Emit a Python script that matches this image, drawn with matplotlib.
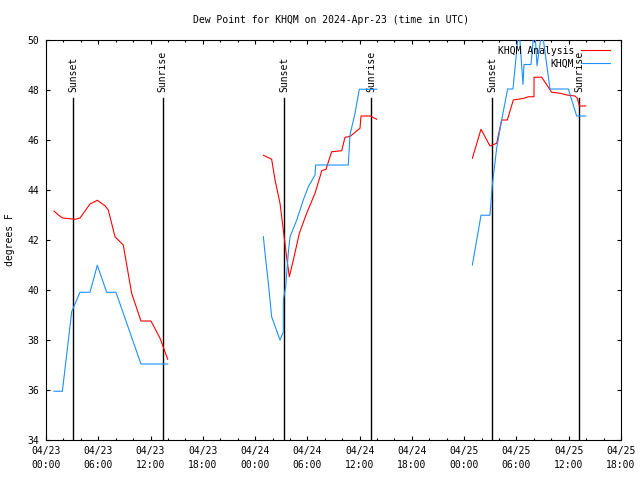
import pandas as pd
import matplotlib
matplotlib.use('Agg')
import matplotlib.pyplot as plt
import matplotlib.dates as mdates

# times are hours after 2024-04-23 00:00 UTC, dew points in deg F
# KHQM Analysis (red), three windows
ana_hours_1 = [0.92, 1.42, 1.91, 3.33, 3.90, 4.48, 5.05, 5.89, 6.77, 7.15, 7.92, 8.87,
               9.83, 10.90, 12.05, 13.09, 13.97]
ana_dewpt_1 = [43.14, 42.98, 42.86, 42.81, 42.86, 43.14, 43.42, 43.57, 43.35, 43.18, 42.11,
               41.78, 39.85, 38.74, 38.74, 38.05, 37.21]
ana_hours_2 = [24.95, 25.90, 26.29, 26.86, 27.24, 27.62, 27.93, 28.39, 29.08, 29.92, 30.88,
               31.45, 31.64, 32.14, 32.79, 33.94, 34.32, 34.89, 36.04, 36.16, 37.19, 37.96]
ana_dewpt_2 = [45.37, 45.21, 44.38, 43.45, 42.38, 41.31, 40.51, 41.18, 42.25, 43.05, 43.85,
               44.51, 44.75, 44.81, 45.51, 45.55, 46.09, 46.12, 46.45, 46.94, 46.94, 46.81]
ana_hours_3 = [48.94, 49.93, 50.96, 51.73, 52.30, 52.95, 53.64, 54.87, 55.36, 56.01, 56.02,
               56.90, 57.55, 58.04, 59.00, 59.77, 60.72, 60.99, 61.22, 61.95]
ana_dewpt_3 = [45.25, 46.41, 45.74, 45.85, 46.78, 46.78, 47.58, 47.65, 47.71, 47.71, 48.49,
               48.49, 48.15, 47.89, 47.85, 47.78, 47.74, 47.65, 47.34, 47.34]

# KHQM obs (blue)
obs_hours_1 = [0.92, 1.88, 2.95, 3.90, 5.05, 5.89, 6.96, 8.03, 10.90, 13.97]
obs_dewpt_1 = [35.93, 35.93, 39.11, 39.89, 39.89, 40.97, 39.89, 39.89, 37.02, 37.02]
obs_hours_2 = [24.95, 25.14, 25.52, 25.90, 26.86, 27.24, 27.25, 27.51, 27.81, 28.01, 28.78,
               29.53, 30.11, 30.88, 30.95, 34.70, 34.89, 35.47, 35.96, 37.96]
obs_dewpt_2 = [42.11, 41.45, 40.25, 38.91, 37.98, 38.3, 39.6, 40.11, 41.45, 42.11, 42.78,
               43.58, 44.11, 44.58, 44.98, 44.98, 46.18, 47.05, 48.01, 48.01]
obs_hours_3 = [48.94, 49.93, 50.96, 51.23, 51.73, 52.30, 52.99, 53.60, 54.29, 54.75, 54.87,
               55.67, 56.07, 56.36, 56.93, 57.85, 59.96, 60.91, 61.95]
obs_dewpt_3 = [40.98, 42.97, 42.97, 44.18, 45.65, 46.78, 48.02, 48.02, 50.5, 48.2, 49.0,
               49.0, 50.6, 48.95, 50.4, 48.02, 48.02, 46.94, 46.94]

sunset_hours = [3.13, 27.32, 51.23]
sunrise_hours = [13.40, 37.30, 61.22]

start = pd.Timestamp('2024-04-23 00:00')


def to_time(hours):
    return [start + pd.Timedelta(hours=h) for h in hours]


mono = 'DejaVu Sans Mono'
plt.rcParams['font.family'] = mono
plt.rcParams['font.size'] = 7

fig = plt.figure(figsize=(6.4, 4.8), dpi=100)
ax = fig.add_axes([46 / 640, 40.5 / 480, 575 / 640, 400 / 480])

# sunrise / sunset markers
for h in sunset_hours:
    t = start + pd.Timedelta(hours=h)
    ax.plot([t, t], [34, 47.65], color='black', lw=1.0, zorder=1)
    ax.text(t, 47.88, 'Sunset', rotation=90, ha='center', va='bottom')
for h in sunrise_hours:
    t = start + pd.Timedelta(hours=h)
    ax.plot([t, t], [34, 47.65], color='black', lw=1.0, zorder=1)
    ax.text(t, 47.88, 'Sunrise', rotation=90, ha='center', va='bottom')

red = '#ff0000'
blue = '#1e90ff'
ax.plot(to_time(ana_hours_1), ana_dewpt_1, color=red, lw=0.8, label='KHQM Analysis', zorder=2)
ax.plot(to_time(ana_hours_2), ana_dewpt_2, color=red, lw=0.8, zorder=2)
ax.plot(to_time(ana_hours_3), ana_dewpt_3, color=red, lw=0.8, zorder=2)
ax.plot(to_time(obs_hours_1), obs_dewpt_1, color=blue, lw=0.8, label='KHQM', zorder=3)
ax.plot(to_time(obs_hours_2), obs_dewpt_2, color=blue, lw=0.8, zorder=3)
ax.plot(to_time(obs_hours_3), obs_dewpt_3, color=blue, lw=0.8, zorder=3)

ax.set_xlim(start, start + pd.Timedelta(hours=66))
ax.set_ylim(34, 50)
ax.set_yticks(range(34, 51, 2))
ax.xaxis.set_major_locator(mdates.HourLocator(byhour=[0, 6, 12, 18]))
ax.xaxis.set_minor_locator(mdates.HourLocator(interval=2))
ax.xaxis.set_major_formatter(mdates.DateFormatter('%m/%d\n%H:%M'))

ax.tick_params(which='both', direction='in', top=True, right=True, width=0.8)
ax.tick_params(which='major', length=3.2)
ax.tick_params(which='minor', length=1.6)
ax.tick_params(axis='x', pad=5)
ax.tick_params(axis='y', pad=4.8)
for s in ax.spines.values():
    s.set_linewidth(0.8)

leg = ax.legend(loc='upper right', bbox_to_anchor=(0.981, 0.985), frameon=False,
                markerfirst=False, handlelength=3.0, handletextpad=0.7,
                borderpad=0, borderaxespad=0, labelspacing=0.35)
leg.set_zorder(5)

fig.text(331 / 640, 1 - 20 / 480, 'Dew Point for KHQM on 2024-Apr-23 (time in UTC)',
         ha='center', va='center')
fig.text(10 / 640, 0.5, 'degrees F', rotation=90, ha='center', va='center')

fig.canvas.draw()
for lbl in ax.get_xticklabels():
    lbl.set_linespacing(1.5)

fig.savefig('out.png', dpi=100)
